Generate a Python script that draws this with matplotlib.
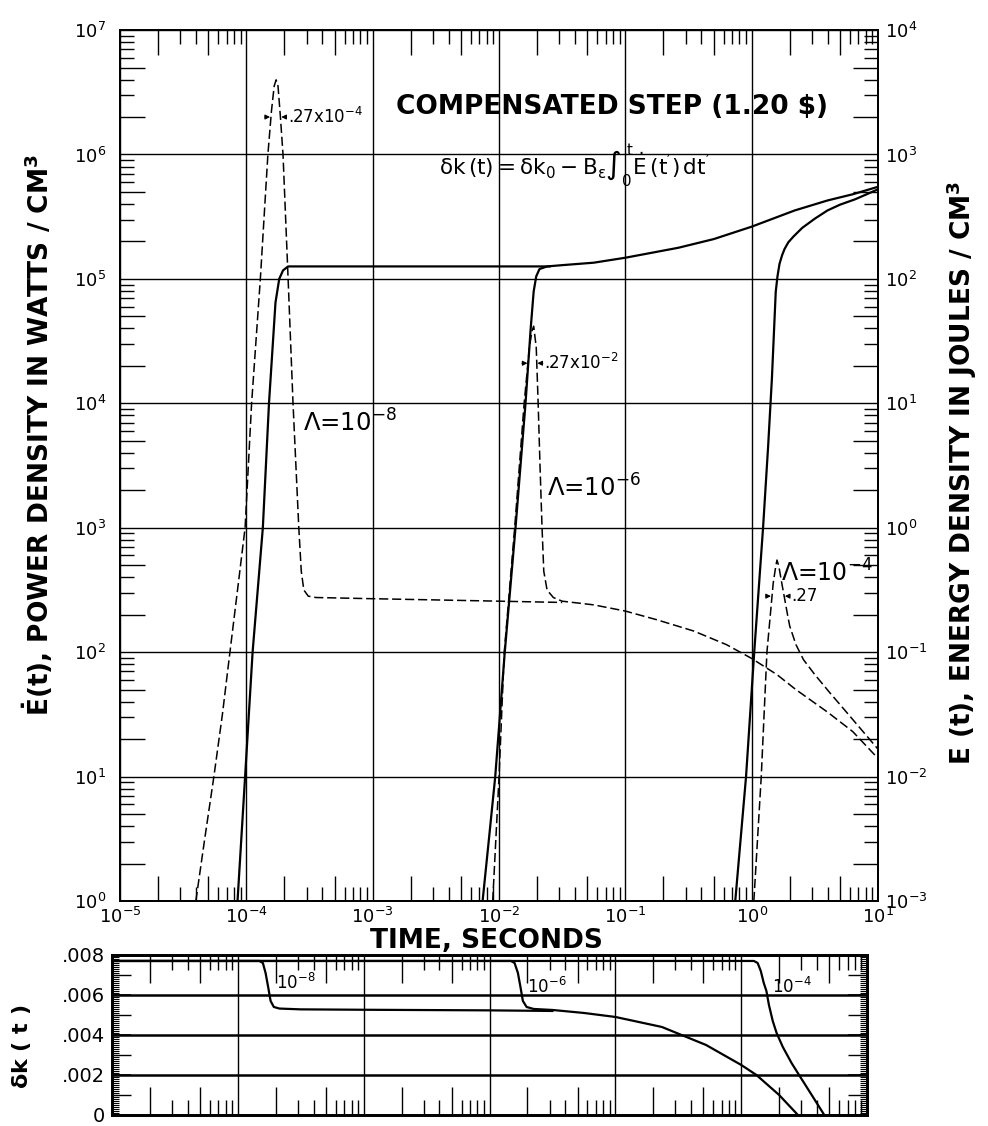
import matplotlib
matplotlib.use('Agg')
import matplotlib.pyplot as plt
from matplotlib.ticker import LogLocator, NullFormatter, NullLocator, MultipleLocator, FixedLocator

plt.rcParams['font.family'] = 'DejaVu Sans'
plt.rcParams['mathtext.fontset'] = 'dejavusans'
plt.rcParams['mathtext.default'] = 'regular'

# --- power density (W/cm^3), dashed curves ---
t_pow8 = [3.98e-5, 4.68e-5, 5.53e-5, 6.46e-5, 7.41e-5, 8.51e-5, 9.77e-5, 1.10e-4, 1.29e-4,
          1.48e-4, 1.58e-4, 1.66e-4, 1.72e-4, 1.78e-4, 1.86e-4, 1.95e-4, 2.14e-4, 2.34e-4,
          2.60e-4, 2.72e-4, 2.85e-4, 3.09e-4, 3.55e-4, 1.0e-3, 3.16e-3, 1.0e-2, 3.16e-2]
p_pow8 = [1.0, 3.16, 10, 31.6, 100, 316, 1000, 1.0e4, 1.0e5,
          1.0e6, 2.24e6, 3.55e6, 3.98e6, 3.55e6, 2.0e6, 1.0e6, 1.0e5, 1.0e4,
          1.0e3, 447, 316, 282, 275, 269, 263, 257, 251]

t_pow6 = [8.91e-3, 1.0e-2, 1.10e-2, 1.33e-2, 1.58e-2, 1.74e-2, 1.82e-2, 1.88e-2, 1.97e-2,
          2.04e-2, 2.11e-2, 2.19e-2, 2.26e-2, 2.40e-2, 2.69e-2, 3.16e-2, 5.62e-2, 0.1,
          0.178, 0.347, 0.631, 1.0, 1.585, 2.24, 3.98, 6.31, 10.0]
p_pow6 = [1.0, 10, 100, 1000, 1.0e4, 2.82e4, 3.80e4, 4.17e4, 2.82e4,
          1.0e4, 3.16e3, 1.0e3, 447, 316, 275, 257, 240, 214,
          182, 148, 115, 89, 66, 50, 33, 23, 14]

t_pow4 = [1.04, 1.19, 1.32, 1.48, 1.55, 1.585, 1.64, 1.73, 1.86, 1.93, 2.0, 2.24, 2.57,
          3.16, 4.17, 5.62, 7.5, 10.0]
p_pow4 = [1.0, 10, 100, 359, 490, 550, 490, 359, 240, 195, 162, 115, 87,
          66, 47, 33, 23.4, 16.6]

# --- energy density (J/cm^3), solid curves ---
t_en8 = [8.51e-5, 9.77e-5, 1.12e-4, 1.35e-4, 1.51e-4, 1.70e-4, 1.82e-4, 1.95e-4, 2.14e-4,
         3.16e-4, 1.0e-3, 1.0e-2, 2.51e-2]
e_en8 = [1e-3, 1e-2, 0.1, 1.0, 10, 64.6, 100, 117, 126, 126, 126, 126, 126]

t_en6 = [7.41e-3, 8.32e-3, 9.33e-3, 1.11e-2, 1.35e-2, 1.62e-2, 1.78e-2, 1.88e-2, 1.97e-2,
         2.09e-2, 2.40e-2, 3.16e-2, 5.62e-2, 0.1, 0.263, 0.501, 1.0, 2.19, 3.98, 6.31, 10.0]
e_en6 = [1e-3, 3.16e-3, 1e-2, 0.1, 1.0, 10, 39.8, 79.4, 105,
         120, 126, 129, 135, 148, 178, 209, 263, 355, 427, 479, 550]

t_en4 = [0.741, 0.902, 1.047, 1.23, 1.35, 1.445, 1.55, 1.60, 1.66, 1.74, 1.82, 1.95,
         2.14, 2.51, 3.16, 3.98, 5.0, 6.61, 10.0]
e_en4 = [1e-3, 1e-2, 0.1, 1.0, 4.57, 15.8, 79, 105, 132, 155, 174, 197,
         219, 257, 305, 355, 395, 437, 525]

# --- reactivity delta k(t) ---
t_dk8 = [1e-5, 1.48e-4, 1.58e-4, 1.66e-4, 1.74e-4, 1.82e-4, 1.93e-4, 2.14e-4, 3.16e-4,
         1e-3, 1e-2, 3.16e-2]
dk8 = [.0077, .0077, .0076, .0071, .0064, .0057, .0054, .00532, .00528, .00526, .00523, .0052]

t_dk6 = [1e-5, 1.48e-2, 1.58e-2, 1.68e-2, 1.76e-2, 1.84e-2, 1.97e-2, 2.24e-2, 3.16e-2,
         5.62e-2, 0.1, 0.234, 0.525, 1.0, 1.32, 2.0, 2.82]
dk6 = [.0077, .0077, .0076, .0071, .0064, .0057, .0054, .0053, .00525,
       .0051, .0049, .0044, .0035, .0025, .0020, .0010, 0.0]

t_dk4 = [1e-5, 1.26, 1.35, 1.43, 1.51, 1.585, 1.66, 1.78, 1.91, 2.14, 2.51, 2.88, 3.63, 4.57]
dk4 = [.0077, .0077, .0076, .0072, .0066, .0062, .0055, .0047, .0041, .0034, .0026, .0020, .0010, 0.0]

dk_ticks = [0.0, 0.002, 0.004, 0.006, 0.008]
dk_labels = ['0', '.002', '.004', '.006', '.008']
dk_mid_ticks = [0.001, 0.003, 0.005, 0.007]

# decade ticks and the longer 2x / 5x ticks
t_decades = [10.0 ** k for k in range(-5, 2)]
p_decades = [10.0 ** k for k in range(0, 8)]
e_decades = [10.0 ** k for k in range(-3, 5)]
t_long = [m * 10.0 ** k for k in range(-5, 1) for m in (2, 5)]
p_long = [m * 10.0 ** k for k in range(0, 7) for m in (2, 5)]
e_long = [m * 10.0 ** k for k in range(-3, 4) for m in (2, 5)]
SHORT_SUBS = (3, 4, 6, 7, 8, 9)

DASH = dict(color='k', lw=1.1, ls=(0, (6, 2.5)))
SOLID = dict(color='k', lw=1.6)


def long_ticks(parent, side, values, length, spine_lw):
    if side in ('top', 'bottom'):
        sec = parent.secondary_xaxis(side)
        axis = sec.xaxis
    else:
        sec = parent.secondary_yaxis(side)
        axis = sec.yaxis
    axis.set_major_locator(FixedLocator(values))
    axis.set_minor_locator(NullLocator())
    axis.set_major_formatter(NullFormatter())
    sec.tick_params(which='major', direction='in', length=length, width=1.0)
    sec.spines[side].set_linewidth(spine_lw)
    return sec


fig = plt.figure(figsize=(9.88, 11.26), dpi=100)
ax = fig.add_axes([0.1215, 0.1998, 0.7672, 0.7735])
ax2 = ax.twinx()
bx = fig.add_axes([0.1134, 0.0098, 0.7642, 0.1421])

# main panel
ax.plot(t_pow8, p_pow8, **DASH)
ax.plot(t_pow6, p_pow6, **DASH)
ax.plot(t_pow4, p_pow4, **DASH)
ax2.plot(t_en8, e_en8, **SOLID)
ax2.plot(t_en6, e_en6, **SOLID)
ax2.plot(t_en4, e_en4, **SOLID)

ax.set_xscale('log')
ax.set_yscale('log')
ax2.set_yscale('log')
ax.set_xlim(1e-5, 10)
ax.set_ylim(1, 1e7)
ax2.set_ylim(1e-3, 1e4)

ax.set_xticks(t_decades)
ax.set_yticks(p_decades)
ax2.set_yticks(e_decades)
ax.xaxis.set_minor_locator(LogLocator(base=10, subs=SHORT_SUBS, numticks=20))
ax.yaxis.set_minor_locator(LogLocator(base=10, subs=SHORT_SUBS, numticks=20))
ax2.yaxis.set_minor_locator(LogLocator(base=10, subs=SHORT_SUBS, numticks=20))
ax.xaxis.set_minor_formatter(NullFormatter())
ax.yaxis.set_minor_formatter(NullFormatter())
ax2.yaxis.set_minor_formatter(NullFormatter())

ax.grid(which='major', color='k', lw=1.0)
ax.tick_params(which='major', length=0, labelsize=13)
ax.tick_params(axis='y', which='major', pad=10)
ax.tick_params(axis='x', which='major', pad=4)
ax.tick_params(which='minor', direction='in', length=10, width=1.0,
               top=True, bottom=True, left=True, right=False)
ax2.tick_params(which='major', length=0, labelsize=13, pad=5)
ax2.tick_params(which='minor', direction='in', length=10, width=1.0)
for a in (ax, ax2):
    for s in a.spines.values():
        s.set_linewidth(1.3)
long_ticks(ax, 'top', t_long, 18, 1.3)
long_ticks(ax, 'bottom', t_long, 18, 1.3)
long_ticks(ax, 'left', p_long, 18, 1.3)
long_ticks(ax2, 'right', e_long, 18, 1.3)

# annotations on the main panel
fig.text(0.619, 0.905, r'COMPENSATED STEP (1.20 \$)', ha='center', va='center',
         fontsize=19, weight='bold')
fig.text(0.582, 0.852,
         r'$\delta k\,(t) = \delta k_0 - B_\epsilon \int_0^{\,t} \dot{E}\,(t^{\prime})\,dt^{\prime}$',
         ha='center', va='center', fontsize=15.5)

ax.text(2.8e-4, 6.9e3, r'$\Lambda$=10$^{-8}$', fontsize=17.5, ha='left', va='center')
ax.text(2.4e-2, 2.1e3, r'$\Lambda$=10$^{-6}$', fontsize=17.5, ha='left', va='center')
ax.text(1.72, 436, r'$\Lambda$=10$^{-4}$', fontsize=17, ha='left', va='center')

arr = dict(arrowstyle='-|>', lw=0.8, color='k', mutation_scale=7, shrinkA=0, shrinkB=0)
# width of the Lambda=1e-8 peak
ax.annotate('', xy=(1.54e-4, 2.0e6), xytext=(1.40e-4, 2.0e6), arrowprops=arr)
ax.annotate('', xy=(1.89e-4, 2.0e6), xytext=(2.08e-4, 2.0e6), arrowprops=arr)
ax.text(2.12e-4, 2.0e6, r'.27x10$^{-4}$', fontsize=12, ha='left', va='center')
# width of the Lambda=1e-6 peak
ax.annotate('', xy=(1.68e-2, 2.1e4), xytext=(1.52e-2, 2.1e4), arrowprops=arr)
ax.annotate('', xy=(2.01e-2, 2.1e4), xytext=(2.22e-2, 2.1e4), arrowprops=arr)
ax.text(2.26e-2, 2.1e4, r'.27x10$^{-2}$', fontsize=12, ha='left', va='center')
# width of the Lambda=1e-4 peak
ax.annotate('', xy=(1.42, 282), xytext=(1.30, 282), arrowprops=arr)
ax.annotate('', xy=(1.83, 282), xytext=(2.0, 282), arrowprops=arr)
ax.text(2.05, 282, '.27', fontsize=12, ha='left', va='center')

# lower panel: delta k(t)
bx.plot(t_dk8, dk8, color='k', lw=1.6)
bx.plot(t_dk6, dk6, color='k', lw=1.6)
bx.plot(t_dk4, dk4, color='k', lw=1.6)
bx.set_xscale('log')
bx.set_xlim(1e-5, 10)
bx.set_ylim(0, 0.008)
bx.set_xticks(t_decades)
bx.xaxis.set_minor_locator(LogLocator(base=10, subs=SHORT_SUBS, numticks=20))
bx.xaxis.set_major_formatter(NullFormatter())
bx.xaxis.set_minor_formatter(NullFormatter())
bx.set_yticks(dk_ticks, dk_labels)
bx.yaxis.set_minor_locator(MultipleLocator(0.0001))
bx.grid(axis='x', which='major', color='k', lw=1.0)
for v in dk_ticks[1:-1]:
    bx.axhline(v, color='k', lw=1.8)
bx.tick_params(axis='x', which='major', length=0)
bx.tick_params(axis='x', which='minor', direction='in', length=11, width=1.0, top=True, bottom=True)
bx.tick_params(axis='y', which='major', direction='in', length=14, width=1.2,
               left=True, right=True, labelsize=14, pad=5)
bx.tick_params(axis='y', which='minor', direction='in', length=5, width=0.8, left=True, right=True)
for s in bx.spines.values():
    s.set_linewidth(2.0)
long_ticks(bx, 'left', dk_mid_ticks, 14, 2.0)
long_ticks(bx, 'right', dk_mid_ticks, 14, 2.0)
long_ticks(bx, 'top', t_long, 20, 2.0)
long_ticks(bx, 'bottom', t_long, 20, 2.0)

bx.text(2.0e-4, 0.0066, r'10$^{-8}$', fontsize=12, ha='left', va='center')
bx.text(2.0e-2, 0.0064, r'10$^{-6}$', fontsize=12, ha='left', va='center')
bx.text(1.74, 0.0064, r'10$^{-4}$', fontsize=12, ha='left', va='center')

# axis titles
fig.text(0.0385, 0.6137, r'$\dot{E}$(t), POWER DENSITY IN WATTS / CM$^{3}$', rotation=90,
         ha='center', va='center', fontsize=19, weight='bold')
fig.text(0.9737, 0.58, r'E (t), ENERGY DENSITY IN JOULES / CM$^{3}$', rotation=90,
         ha='center', va='center', fontsize=19, weight='bold')
fig.text(0.492, 0.164, 'TIME, SECONDS', ha='center', va='center', fontsize=19, weight='bold')
fig.text(0.022, 0.0702, r'$\delta$k ( t )', rotation=90, ha='center', va='center',
         fontsize=16, weight='bold')

fig.savefig('out.png', dpi=100)
